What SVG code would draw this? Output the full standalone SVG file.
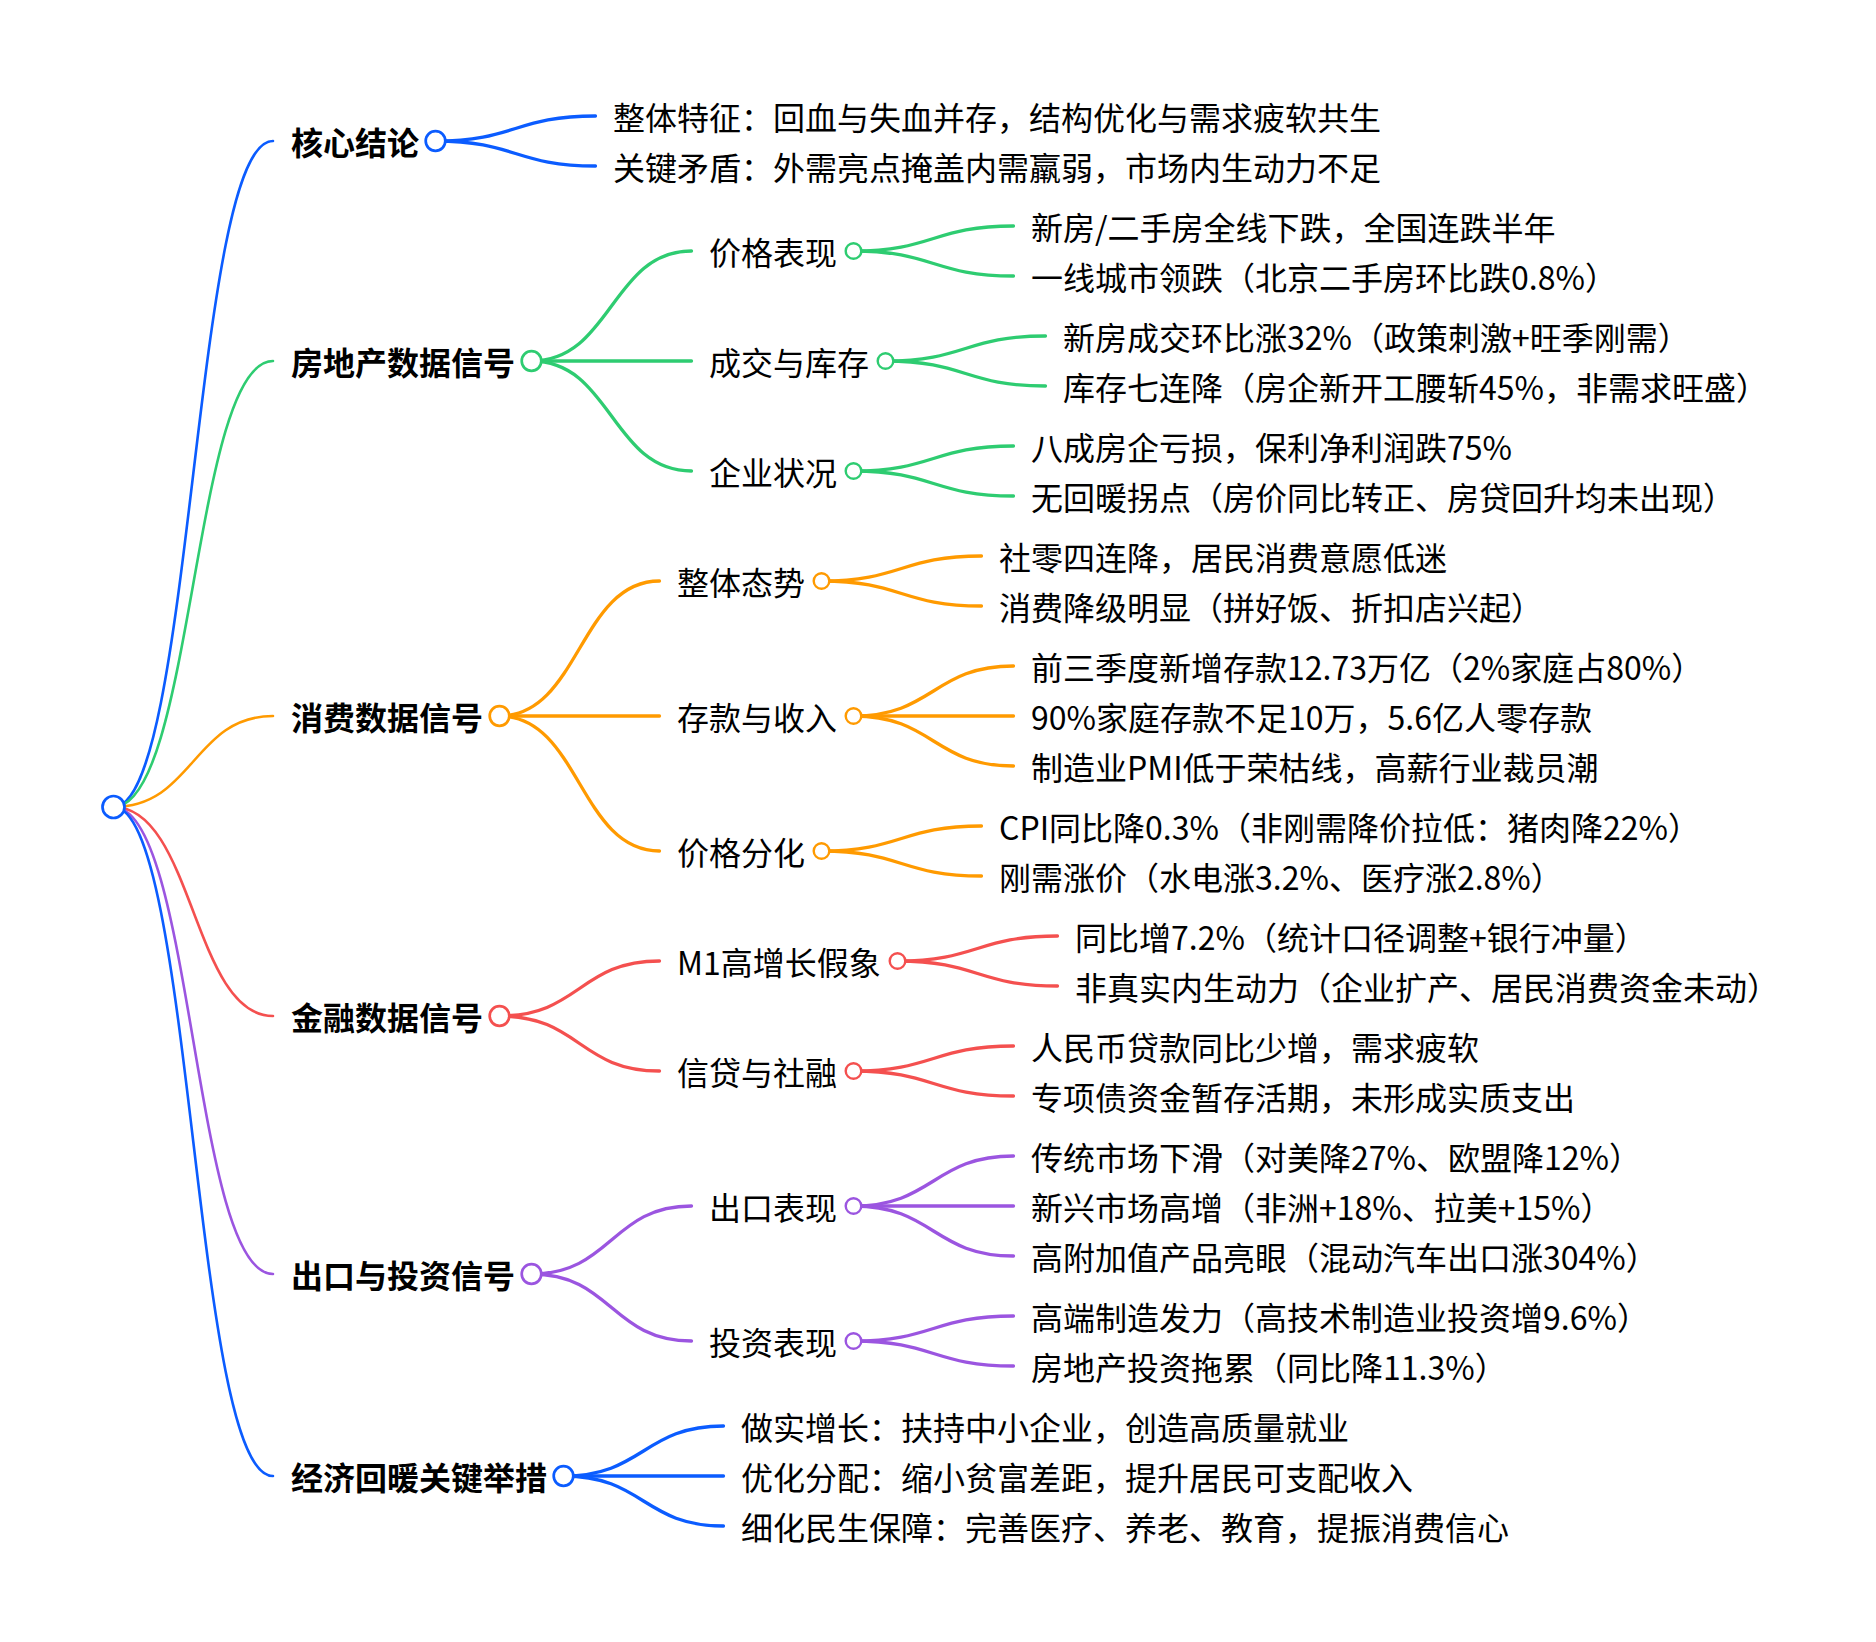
<svg xmlns="http://www.w3.org/2000/svg" width="1876" height="1642" viewBox="0 0 1876 1642">
<style>
text{font-family:"Noto Sans CJK SC","Noto Sans",sans-serif;font-size:32px;fill:#000}
.b{font-weight:700}
path{fill:none;stroke-linecap:round}
.l0{stroke-width:2.6}
.l1{stroke-width:3.3}
circle{fill:#fff}
.c0{stroke-width:2.7}
.c1{stroke-width:2.7}
.c2{stroke-width:2.4}
.blue{stroke:#0b5cff}
.green{stroke:#2ecc71}
.orange{stroke:#ff9a00}
.red{stroke:#f4504f}
.purple{stroke:#9b55e0}
</style>
<rect width="1876" height="1642" fill="#fff"/>
<g id="connectors">
<path class="l0 blue" d="M113.5 807C193.25 807 193.25 141 273 141"/>
<path class="l0 green" d="M113.5 807C193.25 807 193.25 361 273 361"/>
<path class="l0 orange" d="M113.5 807C193.25 807 193.25 716 273 716"/>
<path class="l0 red" d="M113.5 807C193.25 807 193.25 1016 273 1016"/>
<path class="l0 purple" d="M113.5 807C193.25 807 193.25 1274 273 1274"/>
<path class="l0 blue" d="M113.5 807C193.25 807 193.25 1476 273 1476"/>
<path class="l1 blue" d="M435.5 141C515.5 141 515.5 116 595.5 116"/>
<path class="l1 blue" d="M435.5 141C515.5 141 515.5 166 595.5 166"/>
<path class="l1 green" d="M531.5 361C611.5 361 611.5 251 691.5 251"/>
<path class="l1 green" d="M531.5 361L691.5 361"/>
<path class="l1 green" d="M531.5 361C611.5 361 611.5 471 691.5 471"/>
<path class="l1 green" d="M853.5 251C933.5 251 933.5 226 1013.5 226"/>
<path class="l1 green" d="M853.5 251C933.5 251 933.5 276 1013.5 276"/>
<path class="l1 green" d="M885.5 361C965.5 361 965.5 336 1045.5 336"/>
<path class="l1 green" d="M885.5 361C965.5 361 965.5 386 1045.5 386"/>
<path class="l1 green" d="M853.5 471C933.5 471 933.5 446 1013.5 446"/>
<path class="l1 green" d="M853.5 471C933.5 471 933.5 496 1013.5 496"/>
<path class="l1 orange" d="M499.5 716C579.5 716 579.5 581 659.5 581"/>
<path class="l1 orange" d="M499.5 716L659.5 716"/>
<path class="l1 orange" d="M499.5 716C579.5 716 579.5 851 659.5 851"/>
<path class="l1 orange" d="M821.5 581C901.5 581 901.5 556 981.5 556"/>
<path class="l1 orange" d="M821.5 581C901.5 581 901.5 606 981.5 606"/>
<path class="l1 orange" d="M853.5 716C933.5 716 933.5 666 1013.5 666"/>
<path class="l1 orange" d="M853.5 716L1013.5 716"/>
<path class="l1 orange" d="M853.5 716C933.5 716 933.5 766 1013.5 766"/>
<path class="l1 orange" d="M821.5 851C901.5 851 901.5 826 981.5 826"/>
<path class="l1 orange" d="M821.5 851C901.5 851 901.5 876 981.5 876"/>
<path class="l1 red" d="M499.5 1016C579.5 1016 579.5 961 659.5 961"/>
<path class="l1 red" d="M499.5 1016C579.5 1016 579.5 1071 659.5 1071"/>
<path class="l1 red" d="M897.5 961C977.5 961 977.5 936 1057.5 936"/>
<path class="l1 red" d="M897.5 961C977.5 961 977.5 986 1057.5 986"/>
<path class="l1 red" d="M853.5 1071C933.5 1071 933.5 1046 1013.5 1046"/>
<path class="l1 red" d="M853.5 1071C933.5 1071 933.5 1096 1013.5 1096"/>
<path class="l1 purple" d="M531.5 1274C611.5 1274 611.5 1206 691.5 1206"/>
<path class="l1 purple" d="M531.5 1274C611.5 1274 611.5 1341 691.5 1341"/>
<path class="l1 purple" d="M853.5 1206C933.5 1206 933.5 1156 1013.5 1156"/>
<path class="l1 purple" d="M853.5 1206L1013.5 1206"/>
<path class="l1 purple" d="M853.5 1206C933.5 1206 933.5 1256 1013.5 1256"/>
<path class="l1 purple" d="M853.5 1341C933.5 1341 933.5 1316 1013.5 1316"/>
<path class="l1 purple" d="M853.5 1341C933.5 1341 933.5 1366 1013.5 1366"/>
<path class="l1 blue" d="M563.5 1476C643.5 1476 643.5 1426 723.5 1426"/>
<path class="l1 blue" d="M563.5 1476L723.5 1476"/>
<path class="l1 blue" d="M563.5 1476C643.5 1476 643.5 1526 723.5 1526"/>
</g>
<g id="root"><circle class="c0 blue" cx="113.5" cy="807" r="11"/></g>
<g id="n1">
<text class="b" x="291" y="154.5">核心结论</text><circle class="c1 blue" cx="435.5" cy="141" r="9.8"/>
</g>
<g id="n1-1"><text x="613" y="129.5">整体特征：回血与失血并存，结构优化与需求疲软共生</text></g>
<g id="n1-2"><text x="613" y="179.5">关键矛盾：外需亮点掩盖内需羸弱，市场内生动力不足</text></g>
<g id="n2">
<text class="b" x="291" y="374.5">房地产数据信号</text><circle class="c1 green" cx="531.5" cy="361" r="9.8"/>
</g>
<g id="n2-1"><text x="709" y="264.5">价格表现</text><circle class="c2 green" cx="853.5" cy="251" r="7.8"/></g>
<g id="n2-1-1"><text x="1031" y="239.5">新房/二手房全线下跌，全国连跌半年</text></g>
<g id="n2-1-2"><text x="1031" y="289.5">一线城市领跌（北京二手房环比跌0.8%）</text></g>
<g id="n2-2"><text x="709" y="374.5">成交与库存</text><circle class="c2 green" cx="885.5" cy="361" r="7.8"/></g>
<g id="n2-2-1"><text x="1063" y="349.5">新房成交环比涨32%（政策刺激+旺季刚需）</text></g>
<g id="n2-2-2"><text x="1063" y="399.5">库存七连降（房企新开工腰斩45%，非需求旺盛）</text></g>
<g id="n2-3"><text x="709" y="484.5">企业状况</text><circle class="c2 green" cx="853.5" cy="471" r="7.8"/></g>
<g id="n2-3-1"><text x="1031" y="459.5">八成房企亏损，保利净利润跌75%</text></g>
<g id="n2-3-2"><text x="1031" y="509.5">无回暖拐点（房价同比转正、房贷回升均未出现）</text></g>
<g id="n3">
<text class="b" x="291" y="729.5">消费数据信号</text><circle class="c1 orange" cx="499.5" cy="716" r="9.8"/>
</g>
<g id="n3-1"><text x="677" y="594.5">整体态势</text><circle class="c2 orange" cx="821.5" cy="581" r="7.8"/></g>
<g id="n3-1-1"><text x="999" y="569.5">社零四连降，居民消费意愿低迷</text></g>
<g id="n3-1-2"><text x="999" y="619.5">消费降级明显（拼好饭、折扣店兴起）</text></g>
<g id="n3-2"><text x="677" y="729.5">存款与收入</text><circle class="c2 orange" cx="853.5" cy="716" r="7.8"/></g>
<g id="n3-2-1"><text x="1031" y="679.5">前三季度新增存款12.73万亿（2%家庭占80%）</text></g>
<g id="n3-2-2"><text x="1031" y="729.5">90%家庭存款不足10万，5.6亿人零存款</text></g>
<g id="n3-2-3"><text x="1031" y="779.5">制造业PMI低于荣枯线，高薪行业裁员潮</text></g>
<g id="n3-3"><text x="677" y="864.5">价格分化</text><circle class="c2 orange" cx="821.5" cy="851" r="7.8"/></g>
<g id="n3-3-1"><text x="999" y="839.5">CPI同比降0.3%（非刚需降价拉低：猪肉降22%）</text></g>
<g id="n3-3-2"><text x="999" y="889.5">刚需涨价（水电涨3.2%、医疗涨2.8%）</text></g>
<g id="n4">
<text class="b" x="291" y="1029.5">金融数据信号</text><circle class="c1 red" cx="499.5" cy="1016" r="9.8"/>
</g>
<g id="n4-1"><text x="677" y="974.5">M1高增长假象</text><circle class="c2 red" cx="897.5" cy="961" r="7.8"/></g>
<g id="n4-1-1"><text x="1075" y="949.5">同比增7.2%（统计口径调整+银行冲量）</text></g>
<g id="n4-1-2"><text x="1075" y="999.5">非真实内生动力（企业扩产、居民消费资金未动）</text></g>
<g id="n4-2"><text x="677" y="1084.5">信贷与社融</text><circle class="c2 red" cx="853.5" cy="1071" r="7.8"/></g>
<g id="n4-2-1"><text x="1031" y="1059.5">人民币贷款同比少增，需求疲软</text></g>
<g id="n4-2-2"><text x="1031" y="1109.5">专项债资金暂存活期，未形成实质支出</text></g>
<g id="n5">
<text class="b" x="291" y="1287.5">出口与投资信号</text><circle class="c1 purple" cx="531.5" cy="1274" r="9.8"/>
</g>
<g id="n5-1"><text x="709" y="1219.5">出口表现</text><circle class="c2 purple" cx="853.5" cy="1206" r="7.8"/></g>
<g id="n5-1-1"><text x="1031" y="1169.5">传统市场下滑（对美降27%、欧盟降12%）</text></g>
<g id="n5-1-2"><text x="1031" y="1219.5">新兴市场高增（非洲+18%、拉美+15%）</text></g>
<g id="n5-1-3"><text x="1031" y="1269.5">高附加值产品亮眼（混动汽车出口涨304%）</text></g>
<g id="n5-2"><text x="709" y="1354.5">投资表现</text><circle class="c2 purple" cx="853.5" cy="1341" r="7.8"/></g>
<g id="n5-2-1"><text x="1031" y="1329.5">高端制造发力（高技术制造业投资增9.6%）</text></g>
<g id="n5-2-2"><text x="1031" y="1379.5">房地产投资拖累（同比降11.3%）</text></g>
<g id="n6">
<text class="b" x="291" y="1489.5">经济回暖关键举措</text><circle class="c1 blue" cx="563.5" cy="1476" r="9.8"/>
</g>
<g id="n6-1"><text x="741" y="1439.5">做实增长：扶持中小企业，创造高质量就业</text></g>
<g id="n6-2"><text x="741" y="1489.5">优化分配：缩小贫富差距，提升居民可支配收入</text></g>
<g id="n6-3"><text x="741" y="1539.5">细化民生保障：完善医疗、养老、教育，提振消费信心</text></g>
</svg>
